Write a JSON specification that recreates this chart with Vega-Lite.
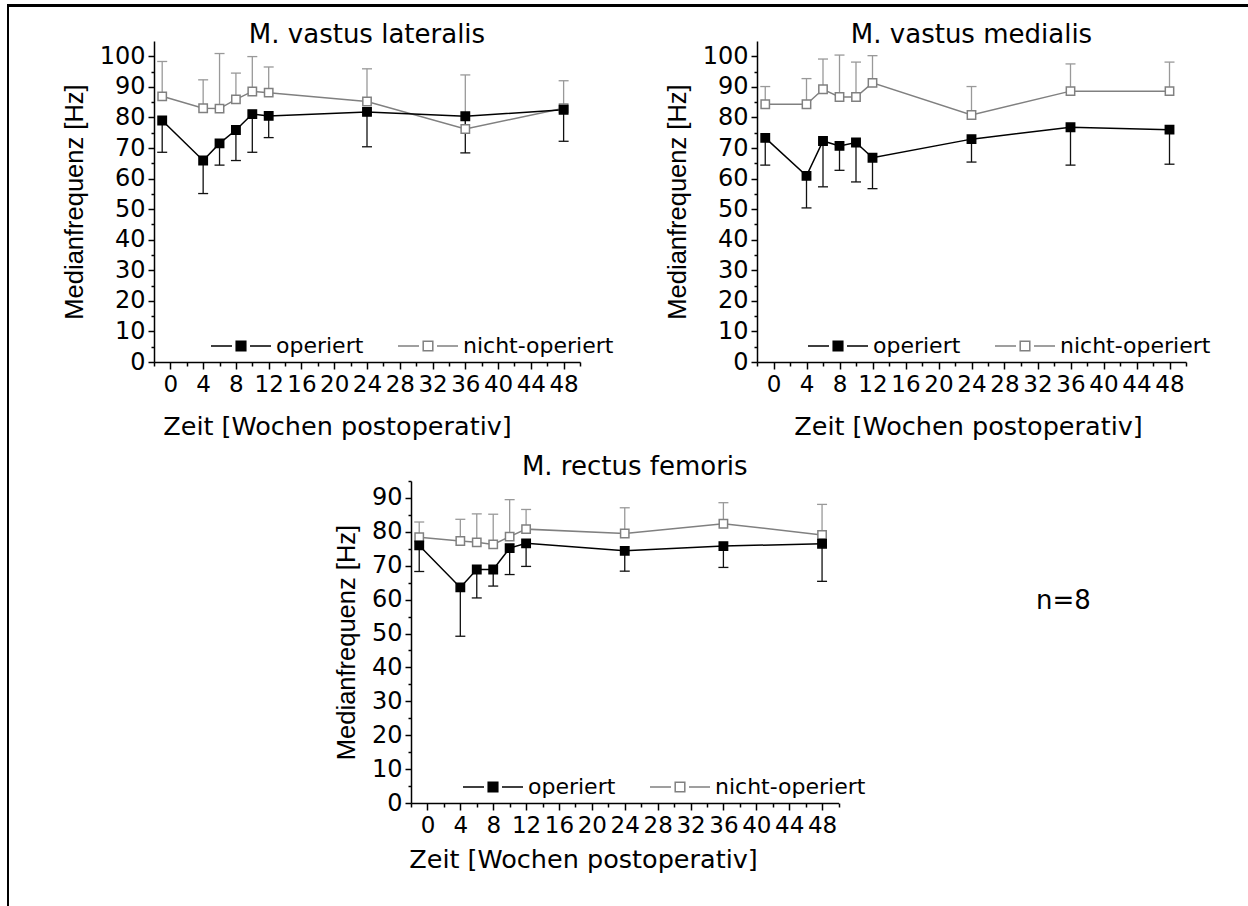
{
  "$schema": "https://vega.github.io/schema/vega-lite/v6.json",
  "padding": {"left": 7, "top": 4, "right": 0, "bottom": 0},
  "background": "white",
  "config": {
    "view": {"stroke": null},
    "font": "DejaVu Sans",
    "axis": {"grid": false, "domainColor": "#000", "domainWidth": 1.5, "tickColor": "#000", "tickWidth": 1.5, "labelColor": "#000", "labelFont": "DejaVu Sans", "labelFontSize": 24, "titleColor": "#000", "titleFontWeight": "normal", "labelOverlap": false, "labelFlush": false},
    "axisX": {"titleFont": "DejaVu Sans", "titleFontSize": 25.5, "labelFontSize": 23, "labelPadding": 4, "titlePadding": 18},
    "axisY": {"titleFont": "Liberation Sans", "titleFontSize": 25.5, "labelPadding": 3, "titlePadding": 12},
    "legend": {"title": null, "orient": "none", "direction": "horizontal", "symbolType": "M-1,0H-0.3M0.3,0H1M-0.16,-0.16H0.16V0.16H-0.16Z", "symbolSize": 3600, "symbolStrokeWidth": 1.5, "labelFont": "DejaVu Sans", "labelFontSize": 22, "labelColor": "black", "labelOffset": 4, "columnPadding": 31, "padding": 0, "labelLimit": 400}
  },
  "datasets": {
    "d": [
      {"m": "VL", "w": -1, "g": "nicht-operiert", "v": 86.9, "e": 98.3},
      {"m": "VL", "w": 4, "g": "nicht-operiert", "v": 83.0, "e": 92.3},
      {"m": "VL", "w": 6, "g": "nicht-operiert", "v": 82.9, "e": 100.9},
      {"m": "VL", "w": 8, "g": "nicht-operiert", "v": 85.9, "e": 94.5},
      {"m": "VL", "w": 10, "g": "nicht-operiert", "v": 88.5, "e": 99.9},
      {"m": "VL", "w": 12, "g": "nicht-operiert", "v": 88.1, "e": 96.5},
      {"m": "VL", "w": 24, "g": "nicht-operiert", "v": 85.2, "e": 95.9},
      {"m": "VL", "w": 36, "g": "nicht-operiert", "v": 76.2, "e": 93.9},
      {"m": "VL", "w": 48, "g": "nicht-operiert", "v": 83.0, "e": 92.0},
      {"m": "VL", "w": -1, "g": "operiert", "v": 79.0, "e": 68.6},
      {"m": "VL", "w": 4, "g": "operiert", "v": 65.9, "e": 55.1},
      {"m": "VL", "w": 6, "g": "operiert", "v": 71.5, "e": 64.4},
      {"m": "VL", "w": 8, "g": "operiert", "v": 75.9, "e": 65.9},
      {"m": "VL", "w": 10, "g": "operiert", "v": 81.1, "e": 68.6},
      {"m": "VL", "w": 12, "g": "operiert", "v": 80.5, "e": 73.4},
      {"m": "VL", "w": 24, "g": "operiert", "v": 81.8, "e": 70.4},
      {"m": "VL", "w": 36, "g": "operiert", "v": 80.4, "e": 68.4},
      {"m": "VL", "w": 48, "g": "operiert", "v": 82.5, "e": 72.2},
      {"m": "VM", "w": -1, "g": "nicht-operiert", "v": 84.3, "e": 90.1},
      {"m": "VM", "w": 4, "g": "nicht-operiert", "v": 84.3, "e": 92.7},
      {"m": "VM", "w": 6, "g": "nicht-operiert", "v": 89.2, "e": 99.1},
      {"m": "VM", "w": 8, "g": "nicht-operiert", "v": 86.7, "e": 100.4},
      {"m": "VM", "w": 10, "g": "nicht-operiert", "v": 86.7, "e": 98.1},
      {"m": "VM", "w": 12, "g": "nicht-operiert", "v": 91.3, "e": 100.2},
      {"m": "VM", "w": 24, "g": "nicht-operiert", "v": 80.8, "e": 90.1},
      {"m": "VM", "w": 36, "g": "nicht-operiert", "v": 88.6, "e": 97.5},
      {"m": "VM", "w": 48, "g": "nicht-operiert", "v": 88.6, "e": 98.1},
      {"m": "VM", "w": -1, "g": "operiert", "v": 73.3, "e": 64.4},
      {"m": "VM", "w": 4, "g": "operiert", "v": 60.9, "e": 50.4},
      {"m": "VM", "w": 6, "g": "operiert", "v": 72.3, "e": 57.3},
      {"m": "VM", "w": 8, "g": "operiert", "v": 70.7, "e": 62.7},
      {"m": "VM", "w": 10, "g": "operiert", "v": 71.8, "e": 58.9},
      {"m": "VM", "w": 12, "g": "operiert", "v": 66.8, "e": 56.7},
      {"m": "VM", "w": 24, "g": "operiert", "v": 72.9, "e": 65.4},
      {"m": "VM", "w": 36, "g": "operiert", "v": 76.8, "e": 64.4},
      {"m": "VM", "w": 48, "g": "operiert", "v": 76.0, "e": 64.7},
      {"m": "RF", "w": -1, "g": "nicht-operiert", "v": 78.4, "e": 82.9},
      {"m": "RF", "w": 4, "g": "nicht-operiert", "v": 77.3, "e": 83.7},
      {"m": "RF", "w": 6, "g": "nicht-operiert", "v": 76.9, "e": 85.3},
      {"m": "RF", "w": 8, "g": "nicht-operiert", "v": 76.3, "e": 85.2},
      {"m": "RF", "w": 10, "g": "nicht-operiert", "v": 78.6, "e": 89.5},
      {"m": "RF", "w": 12, "g": "nicht-operiert", "v": 80.8, "e": 86.6},
      {"m": "RF", "w": 24, "g": "nicht-operiert", "v": 79.5, "e": 87.1},
      {"m": "RF", "w": 36, "g": "nicht-operiert", "v": 82.4, "e": 88.6},
      {"m": "RF", "w": 48, "g": "nicht-operiert", "v": 79.1, "e": 88.1},
      {"m": "RF", "w": -1, "g": "operiert", "v": 76.0, "e": 68.3},
      {"m": "RF", "w": 4, "g": "operiert", "v": 63.6, "e": 49.2},
      {"m": "RF", "w": 6, "g": "operiert", "v": 68.9, "e": 60.5},
      {"m": "RF", "w": 8, "g": "operiert", "v": 68.9, "e": 64.0},
      {"m": "RF", "w": 10, "g": "operiert", "v": 75.2, "e": 67.4},
      {"m": "RF", "w": 12, "g": "operiert", "v": 76.6, "e": 69.8},
      {"m": "RF", "w": 24, "g": "operiert", "v": 74.4, "e": 68.4},
      {"m": "RF", "w": 36, "g": "operiert", "v": 75.8, "e": 69.5},
      {"m": "RF", "w": 48, "g": "operiert", "v": 76.5, "e": 65.4}
    ]
  },
  "spacing": 0,
  "bounds": "full",
  "resolve": {"scale": {"stroke": "independent", "fill": "independent"}},
  "hconcat": [
    {"data": {"values": [{}]}, "width": 2, "height": 902, "mark": {"type": "text", "fontSize": 0}, "encoding": {"text": {"value": ""}}, "view": {"fill": "black", "stroke": null}},
    {
      "spacing": 0,
      "bounds": "full",
      "resolve": {"scale": {"stroke": "independent", "fill": "independent"}},
      "vconcat": [
        {"data": {"values": [{}]}, "width": 1239, "height": 3, "mark": {"type": "text", "fontSize": 0}, "encoding": {"text": {"value": ""}}, "view": {"fill": "black", "stroke": null}},
        {"data": {"values": [{}]}, "width": 1, "height": 15, "mark": {"type": "text", "fontSize": 0}, "encoding": {"text": {"value": ""}}, "view": {"fill": "transparent", "stroke": null}},
        {
          "spacing": 0,
          "bounds": "flush",
          "resolve": {"scale": {"stroke": "independent", "fill": "independent"}},
          "hconcat": [
            {"data": {"values": [{}]}, "width": 144.6, "height": 10, "mark": {"type": "text", "fontSize": 0}, "encoding": {"text": {"value": ""}}, "view": {"fill": "transparent", "stroke": null}},
            {
              "width": 426, "height": 321,
              "data": {"name": "d"},
              "transform": [{"filter": "datum.m === 'VL'"}],
              "title": {"text": "M. vastus lateralis", "font": "DejaVu Sans", "fontSize": 26, "fontWeight": "normal", "color": "black", "frame": "group", "anchor": "middle", "baseline": "alphabetic", "offset": -28},
              "encoding": {
                "x": {"field": "w", "type": "quantitative", "scale": {"domain": [-2, 50], "nice": false, "zero": false}, "title": "Zeit [Wochen postoperativ]",
                      "axis": {"titleX": 183, "values": [-2,0,2,4,6,8,10,12,14,16,18,20,22,24,26,28,30,32,34,36,38,40,42,44,46,48,50], "labelExpr": "datum.value >= 0 && datum.value <= 48 && datum.value % 4 === 0 ? datum.label : ''", "tickSize": {"condition": {"test": "datum.value % 4 === 0", "value": 7}, "value": 4}}},
                "y": {"field": "v", "type": "quantitative", "scale": {"domain": [0, 105], "nice": false}, "title": "Medianfrequenz [Hz]",
                      "axis": {"values": [0,5,10,15,20,25,30,35,40,45,50,55,60,65,70,75,80,85,90,95,100], "labelExpr": "datum.value % 10 === 0 ? datum.label : ''", "tickSize": {"condition": {"test": "datum.value % 10 === 0", "value": 6}, "value": 3}}},
                "stroke": {"field": "g", "type": "nominal", "scale": {"domain": ["operiert", "nicht-operiert"], "range": ["#000000", "#808080"]}, "legend": {"legendX": 56, "legendY": 274}}
              },
              "layer": [
                {"mark": {"type": "line", "strokeWidth": 1.5}},
                {"mark": {"type": "rule", "strokeWidth": 1.3}, "encoding": {"y2": {"field": "e"}, "stroke": {"condition": {"test": "datum.g === 'nicht-operiert'", "value": "#999999"}, "value": "#111111"}}},
                {"mark": {"type": "point", "shape": "M-1,0H1", "size": 100, "filled": false, "opacity": 1, "strokeWidth": 1.3},
                 "encoding": {"stroke": {"condition": {"test": "datum.g === 'nicht-operiert'", "value": "#999999"}, "value": "#111111"},
                      "y": {"field": "e", "type": "quantitative", "scale": {"domain": [0, 105], "nice": false}, "title": "Medianfrequenz [Hz]",
                      "axis": {"values": [0,5,10,15,20,25,30,35,40,45,50,55,60,65,70,75,80,85,90,95,100], "labelExpr": "datum.value % 10 === 0 ? datum.label : ''", "tickSize": {"condition": {"test": "datum.value % 10 === 0", "value": 6}, "value": 3}}}}},
                {"mark": {"type": "point", "shape": "square", "size": 70, "filled": true, "opacity": 1, "strokeWidth": 1.5},
                 "encoding": {"fill": {"field": "g", "type": "nominal", "scale": {"domain": ["operiert", "nicht-operiert"], "range": ["#000000", "#ffffff"]}, "legend": {"legendX": 56, "legendY": 274}}}}
              ]
            },
            {"data": {"values": [{}]}, "width": 176.4, "height": 10, "mark": {"type": "text", "fontSize": 0}, "encoding": {"text": {"value": ""}}, "view": {"fill": "transparent", "stroke": null}},
            {
              "width": 429, "height": 321,
              "data": {"name": "d"},
              "transform": [{"filter": "datum.m === 'VM'"}],
              "title": {"text": "M. vastus medialis", "font": "DejaVu Sans", "fontSize": 26, "fontWeight": "normal", "color": "black", "frame": "group", "anchor": "middle", "baseline": "alphabetic", "offset": -28},
              "encoding": {
                "x": {"field": "w", "type": "quantitative", "scale": {"domain": [-2, 50], "nice": false, "zero": false}, "title": "Zeit [Wochen postoperativ]",
                      "axis": {"titleX": 211, "values": [-2,0,2,4,6,8,10,12,14,16,18,20,22,24,26,28,30,32,34,36,38,40,42,44,46,48,50], "labelExpr": "datum.value >= 0 && datum.value <= 48 && datum.value % 4 === 0 ? datum.label : ''", "tickSize": {"condition": {"test": "datum.value % 4 === 0", "value": 7}, "value": 4}}},
                "y": {"field": "v", "type": "quantitative", "scale": {"domain": [0, 105], "nice": false}, "title": "Medianfrequenz [Hz]",
                      "axis": {"values": [0,5,10,15,20,25,30,35,40,45,50,55,60,65,70,75,80,85,90,95,100], "labelExpr": "datum.value % 10 === 0 ? datum.label : ''", "tickSize": {"condition": {"test": "datum.value % 10 === 0", "value": 6}, "value": 3}}},
                "stroke": {"field": "g", "type": "nominal", "scale": {"domain": ["operiert", "nicht-operiert"], "range": ["#000000", "#808080"]}, "legend": {"legendX": 50, "legendY": 274}}
              },
              "layer": [
                {"mark": {"type": "line", "strokeWidth": 1.5}},
                {"mark": {"type": "rule", "strokeWidth": 1.3}, "encoding": {"y2": {"field": "e"}, "stroke": {"condition": {"test": "datum.g === 'nicht-operiert'", "value": "#999999"}, "value": "#111111"}}},
                {"mark": {"type": "point", "shape": "M-1,0H1", "size": 100, "filled": false, "opacity": 1, "strokeWidth": 1.3},
                 "encoding": {"stroke": {"condition": {"test": "datum.g === 'nicht-operiert'", "value": "#999999"}, "value": "#111111"},
                      "y": {"field": "e", "type": "quantitative", "scale": {"domain": [0, 105], "nice": false}, "title": "Medianfrequenz [Hz]",
                      "axis": {"values": [0,5,10,15,20,25,30,35,40,45,50,55,60,65,70,75,80,85,90,95,100], "labelExpr": "datum.value % 10 === 0 ? datum.label : ''", "tickSize": {"condition": {"test": "datum.value % 10 === 0", "value": 6}, "value": 3}}}}},
                {"mark": {"type": "point", "shape": "square", "size": 70, "filled": true, "opacity": 1, "strokeWidth": 1.5},
                 "encoding": {"fill": {"field": "g", "type": "nominal", "scale": {"domain": ["operiert", "nicht-operiert"], "range": ["#000000", "#ffffff"]}, "legend": {"legendX": 50, "legendY": 274}}}}
              ]
            }
          ]
        },
        {"data": {"values": [{}]}, "width": 1, "height": 13.5, "mark": {"type": "text", "fontSize": 0}, "encoding": {"text": {"value": ""}}, "view": {"fill": "transparent", "stroke": null}},
        {
          "spacing": 0,
          "bounds": "flush",
          "resolve": {"scale": {"stroke": "independent", "fill": "independent"}},
          "hconcat": [
            {"data": {"values": [{}]}, "width": 402, "height": 10, "mark": {"type": "text", "fontSize": 0}, "encoding": {"text": {"value": ""}}, "view": {"fill": "transparent", "stroke": null}},
            {
              "width": 427.5, "height": 322,
              "data": {"name": "d"},
              "transform": [{"filter": "datum.m === 'RF'"}],
              "title": {"text": "M. rectus femoris", "font": "DejaVu Sans", "fontSize": 26, "fontWeight": "normal", "color": "black", "frame": "group", "anchor": "middle", "baseline": "alphabetic", "offset": -32, "dx": 10},
              "encoding": {
                "x": {"field": "w", "type": "quantitative", "scale": {"domain": [-2, 50], "nice": false, "zero": false}, "title": "Zeit [Wochen postoperativ]",
                      "axis": {"titleX": 172, "titlePadding": 10, "values": [-2,0,2,4,6,8,10,12,14,16,18,20,22,24,26,28,30,32,34,36,38,40,42,44,46,48,50], "labelExpr": "datum.value >= 0 && datum.value <= 48 && datum.value % 4 === 0 ? datum.label : ''", "tickSize": {"condition": {"test": "datum.value % 4 === 0", "value": 7}, "value": 4}}},
                "y": {"field": "v", "type": "quantitative", "scale": {"domain": [0, 95], "nice": false}, "title": "Medianfrequenz [Hz]",
                      "axis": {"values": [0,5,10,15,20,25,30,35,40,45,50,55,60,65,70,75,80,85,90,95], "labelExpr": "datum.value % 10 === 0 ? datum.label : ''", "tickSize": {"condition": {"test": "datum.value % 10 === 0", "value": 6}, "value": 3}}},
                "stroke": {"field": "g", "type": "nominal", "scale": {"domain": ["operiert", "nicht-operiert"], "range": ["#000000", "#808080"]}, "legend": {"legendX": 51, "legendY": 275}}
              },
              "layer": [
                {"mark": {"type": "line", "strokeWidth": 1.5}},
                {"mark": {"type": "rule", "strokeWidth": 1.3}, "encoding": {"y2": {"field": "e"}, "stroke": {"condition": {"test": "datum.g === 'nicht-operiert'", "value": "#999999"}, "value": "#111111"}}},
                {"mark": {"type": "point", "shape": "M-1,0H1", "size": 100, "filled": false, "opacity": 1, "strokeWidth": 1.3},
                 "encoding": {"stroke": {"condition": {"test": "datum.g === 'nicht-operiert'", "value": "#999999"}, "value": "#111111"},
                      "y": {"field": "e", "type": "quantitative", "scale": {"domain": [0, 95], "nice": false}, "title": "Medianfrequenz [Hz]",
                      "axis": {"values": [0,5,10,15,20,25,30,35,40,45,50,55,60,65,70,75,80,85,90,95], "labelExpr": "datum.value % 10 === 0 ? datum.label : ''", "tickSize": {"condition": {"test": "datum.value % 10 === 0", "value": 6}, "value": 3}}}}},
                {"mark": {"type": "point", "shape": "square", "size": 70, "filled": true, "opacity": 1, "strokeWidth": 1.5},
                 "encoding": {"fill": {"field": "g", "type": "nominal", "scale": {"domain": ["operiert", "nicht-operiert"], "range": ["#000000", "#ffffff"]}, "legend": {"legendX": 51, "legendY": 275}}}}
              ]
            },
            {"data": {"values": [{}]}, "width": 100, "height": 10, "mark": {"type": "text", "fontSize": 0}, "encoding": {"text": {"value": ""}}, "view": {"fill": "transparent", "stroke": null}},
            {"data": {"values": [{"t": "n=8"}]}, "width": 249, "height": 240, "mark": {"type": "text", "font": "DejaVu Sans", "fontSize": 26, "color": "black", "align": "center", "baseline": "middle"}, "encoding": {"text": {"field": "t", "type": "nominal"}}, "view": {"fill": "transparent", "stroke": null}}
          ]
        }
      ]
    }
  ]
}
